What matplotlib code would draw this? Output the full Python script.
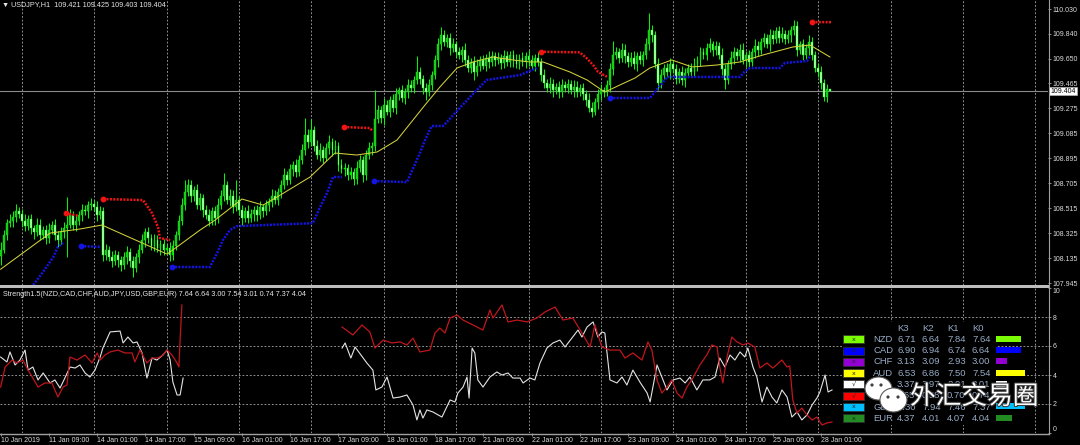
import numpy as np
import matplotlib
matplotlib.use('Agg')
import matplotlib.pyplot as plt
from matplotlib.patches import Rectangle, Ellipse
import matplotlib.patheffects as pe

plt.rcParams['font.family'] = ['Liberation Sans', 'DejaVu Sans']

nan = float('nan')

# ---------------- data ----------------
title_main = "\u25bc USDJPY,H1  109.421 109.425 109.403 109.404"
title_sub = "Strength1.5(NZD,CAD,CHF,AUD,JPY,USD,GBP,EUR) 7.64 6.64 3.00 7.54 3.01 0.74 7.37 4.04"
last_price = 109.404

first_open = 108.15
closes = [
    108.20,108.31,108.40,108.42,108.45,108.49,108.47,108.42,108.38,108.43,108.36,108.33,108.39,108.31,108.35,108.29,108.35,108.39,108.31,108.27,
    108.33,108.36,108.39,108.46,108.39,108.42,108.46,108.50,108.49,108.54,108.55,108.52,108.46,108.49,108.16,108.20,108.14,108.11,108.16,108.12,
    108.08,108.14,108.18,108.11,108.06,108.14,108.20,108.27,108.33,108.29,108.23,108.27,108.21,108.24,108.20,108.21,108.16,108.23,108.31,108.42,
    108.54,108.64,108.69,108.61,108.65,108.54,108.59,108.50,108.46,108.42,108.49,108.44,108.54,108.61,108.69,108.58,108.61,108.52,108.58,108.50,
    108.44,108.49,108.44,108.47,108.50,108.46,108.52,108.49,108.54,108.56,108.61,108.58,108.64,108.69,108.77,108.73,108.81,108.84,108.79,108.88,
    108.96,109.07,109.02,109.11,108.99,108.92,108.96,108.90,108.97,109.02,108.96,108.99,108.84,108.81,108.82,108.77,108.79,108.74,108.82,108.88,
    108.77,108.92,108.97,108.99,109.19,109.26,109.20,109.30,109.25,109.34,109.28,109.38,109.41,109.35,109.40,109.45,109.43,109.49,109.55,109.50,
    109.43,109.40,109.45,109.53,109.64,109.76,109.83,109.78,109.81,109.73,109.76,109.70,109.68,109.72,109.64,109.58,109.63,109.55,109.60,109.64,
    109.60,109.66,109.63,109.67,109.64,109.66,109.62,109.67,109.63,109.68,109.64,109.61,109.66,109.63,109.67,109.64,109.60,109.66,109.63,109.53,
    109.47,109.43,109.46,109.41,109.44,109.40,109.45,109.43,109.46,109.41,109.44,109.40,109.43,109.38,109.34,109.28,109.25,109.32,109.38,109.41,
    109.40,109.45,109.57,109.68,109.70,109.66,109.72,109.67,109.63,109.66,109.61,109.67,109.64,109.68,109.76,109.87,109.83,109.61,109.47,109.53,
    109.58,109.55,109.61,109.57,109.50,109.55,109.49,109.54,109.58,109.55,109.61,109.64,109.70,109.68,109.73,109.76,109.72,109.75,109.68,109.57,
    109.49,109.61,109.66,109.70,109.67,109.72,109.64,109.68,109.63,109.70,109.75,109.72,109.78,109.81,109.76,109.83,109.80,109.86,109.81,109.84,
    109.80,109.83,109.87,109.90,109.72,109.76,109.68,109.73,109.78,109.68,109.58,109.55,109.47,109.36,109.421,109.404,
]
# wick lengths in pips above the body top / below the body bottom
wick_hi = [
    6,4,3,5,4,6,3,4,5,3,4,3,5,4,3,4,5,3,4,3,
    4,5,21,5,3,4,3,5,4,3,4,3,5,4,3,4,3,5,4,3,
    3,4,5,3,4,3,4,5,3,4,3,5,4,3,4,3,5,4,3,4,
    5,9,5,4,3,5,4,3,4,5,3,4,5,4,9,3,5,4,15,3,
    4,3,5,4,3,4,5,3,4,3,5,4,3,4,5,3,4,3,5,4,
    4,13,5,8,3,4,5,3,4,5,3,4,3,5,4,3,4,3,5,4,
    3,4,5,3,22,4,3,5,4,3,4,5,3,4,3,5,4,3,12,4,
    3,4,5,3,4,5,6,4,3,4,5,3,4,3,5,4,3,4,5,3,
    4,3,5,4,3,4,3,5,4,3,4,5,3,4,3,5,4,3,4,3,
    4,3,5,4,3,4,5,3,4,3,5,4,3,4,3,5,4,3,4,5,
    3,4,5,11,4,3,5,4,3,4,5,3,4,3,5,13,4,3,5,4,
    3,4,5,3,4,3,5,4,3,4,5,3,4,3,4,5,3,4,3,5,
    4,3,5,4,3,4,5,3,4,3,5,4,3,4,3,5,4,3,4,5,
    3,4,3,5,4,3,4,3,5,4,3,4,5,3,4,0.4,
]
wick_lo = [
    7,3,4,3,5,4,3,5,4,3,4,5,3,4,3,5,4,3,4,5,
    3,4,22,3,4,5,3,4,3,5,4,3,4,3,5,4,3,4,3,5,
    4,3,5,4,7,3,4,3,5,4,3,4,3,5,4,3,5,4,3,4,
    3,4,3,5,4,3,4,5,3,4,3,5,4,3,4,3,5,4,3,4,
    5,3,4,3,5,4,3,4,3,5,4,3,4,5,3,4,3,5,4,3,
    3,4,5,3,4,3,5,4,3,4,5,3,4,3,5,4,3,5,4,3,
    6,4,3,5,4,3,4,5,3,4,3,5,4,3,4,5,3,4,3,4,
    5,6,3,4,3,5,4,3,4,5,3,4,3,5,4,3,4,6,3,4,
    3,4,5,3,4,3,5,4,3,4,5,3,4,3,5,4,3,4,3,5,
    4,3,4,5,3,5,4,3,4,3,5,4,3,4,5,3,4,3,5,4,
    4,3,5,4,3,4,3,5,4,3,4,5,3,4,3,4,5,3,6,4,
    3,4,5,3,4,3,4,5,3,4,3,5,4,3,4,3,5,4,3,4,
    7,3,4,5,3,4,3,5,4,3,4,5,3,4,3,5,4,3,4,3,
    4,3,5,4,5,3,4,3,5,4,3,4,5,3,4,0.1,
]

# moving average (yellow)
ma_bar = [0, 16.4, 26.3, 33.6, 55.2, 66.1, 71.1, 80, 87, 91.6, 102.6, 110.8, 118.1, 124.8, 131.4,
          140.7, 145.6, 151.3, 156.6, 163.2, 169.8, 175.5, 179.8, 188.7, 194.4, 200.3, 205.3, 210.3,
          215.2, 222.5, 229.2, 237.5, 245.1, 252.7, 262.6, 268.3, 274.9]
ma_val = [108.05, 108.325, 108.356, 108.386, 108.165, 108.348, 108.424, 108.584, 108.538, 108.599,
          108.752, 108.934, 108.919, 108.942, 109.033, 109.30, 109.436, 109.581, 109.627, 109.665,
          109.642, 109.627, 109.627, 109.551, 109.49, 109.398, 109.452, 109.505, 109.581, 109.642,
          109.589, 109.604, 109.627, 109.68, 109.741, 109.756, 109.665]

# resistance (red) and support (blue) step lines
res_bar = [21.6, 25.8, nan, 34, 47.2, 50.2, 52.2, 52.8, 56.2, nan, 113.8, 122.4, 123.4, nan,
           179, 192, 194.3, 196.4, 198, 199.3, 201, nan, 269, 275.6]
res_val = [108.475, 108.457, nan, 108.584, 108.576, 108.477, 108.37, 108.287, 108.272, nan,
           109.132, 109.124, 109.10, nan, 109.705, 109.70, 109.655, 109.604, 109.553, 109.535,
           109.515, nan, 109.93, 109.93]
sup_bar = [10.8, 14.1, 17.4, 19, 20.7, nan, 26.6, 33, nan, 56.7, 69.4, 71.7, 73.7, 76, 78.4, 103.5,
           105.9, 108.2, 110.2, 113.2, nan, 123.8, 134.7, 139, 140.7, 142.9, 146.7, 155.6, 161.1,
           172.2, 177.7, nan, 202, 215.3, 216.9, 219.2, 220.9, 245.1, 246.7, 248.4, 258.3, 260,
           267.3, 268.3]
sup_val = [107.93, 108.03, 108.14, 108.22, 108.25, nan, 108.226, 108.22, nan, 108.067, 108.067,
           108.17, 108.272, 108.348, 108.378, 108.40, 108.523, 108.63, 108.752, 108.752, nan,
           108.721, 108.713, 108.934, 109.033, 109.14, 109.14, 109.36, 109.49, 109.528, 109.58, nan,
           109.353, 109.353, 109.40, 109.46, 109.513, 109.513, 109.555, 109.581, 109.581, 109.62,
           109.634, 109.672]

# strength lines (lower panel)
jpy_bar = [0, 2.1, 3.1, 4.8, 6.4, 8.1, 9.1, 10.7, 12.4, 14.1, 16.4, 18, 19.7, 21.3, 23, 24.7, 26.3,
           28, 29.6, 31.3, 33, 33.9, 36.3, 39.6, 40.6, 42.2, 43.9, 45.2, 46.9, 48.5, 50.2, 51.8, 53.8,
           55.2, 56.2, 57.1, 58.5, 59.5, 60.5, nan,
           113.2, 114.2, 116.1, 117.5, 121.4, 123.4, 124.4, 126.4, 128.1, 130.1, 132.4, 134.7, 136.7,
           138, 139, 140, 141.3, 143.3, 146.3, 149, 150.6, 151.6, 153.3, 154.6, 155.3, 156.3, 157.2,
           158.2, 159.9, 162.2, 164.5, 166.2, 168.2, 169.8, 172.2, 173.2, 175.5, 177.1, 178.8, 181.1,
           183.1, 185.4, 187.1, 189.4, 191.4, 192.7, 194.4, 196.4, 198, 199.3, 200.3, 202, 204.3, 206,
           207.6, 209.6, 211.9, 214.3, 215.3, 217.6, 219.2, 220.9, 222.9, 225.2, 226.9, 228.5, 230.8,
           232.8, 235.1, 236.8, 238.4, 240.1, 241.8, 243.4, 245.1, 246.7, 247.7, 249.4, 250.7, 252.4,
           254, 255.7, 257.3, 259, 260.7, 262.3, 264, 265.6, 267.3, 269, 270.6, 271.6, 273.3, 274.3,
           275.6]
jpy_val = [5.24, 4.90, 5.59, 4.69, 5.03, 5.72, 4.34, 4.55, 3.66, 4.14, 3.45, 3.66, 3.10, 3.79, 4.55,
           4.48, 4.69, 4.14, 3.86, 4.34, 5.24, 5.86, 6.97, 7.03, 6.21, 6.62, 6.21, 6.28, 5.52, 3.79,
           5.17, 5.03, 5.38, 5.72, 5.03, 3.52, 2.62, 2.62, 3.79, nan,
           5.86, 6.21, 5.17, 5.93, 4.83, 4.34, 2.97, 3.17, 3.86, 2.41, 2.48, 2.62, 1.93, 0.90, 1.59,
           1.03, 1.59, 1.45, 1.10, 2.28, 2.14, 2.76, 3.17, 3.86, 2.41, 5.86, 5.52, 3.66, 3.17, 3.86,
           4.21, 4.00, 4.14, 3.79, 3.79, 3.45, 3.79, 3.66, 4.83, 5.86, 6.21, 6.41, 5.93, 6.55, 7.10,
           6.62, 7.31, 7.66, 6.62, 6.97, 6.90, 3.66, 3.45, 3.86, 3.31, 4.34, 3.52, 2.76, 2.14, 4.69,
           3.86, 2.97, 3.66, 3.79, 3.45, 3.86, 2.97, 3.66, 3.66, 3.86, 5.17, 4.55, 5.38, 5.03, 5.59,
           5.24, 5.86, 4.55, 3.86, 2.14, 3.17, 2.48, 2.07, 2.97, 2.48, 1.10, 1.45, 0.90, 1.24, 1.93,
           2.41, 2.83, 4.00, 2.83, 2.97]
usd_bar = [0, 1.5, 3.8, 5.4, 7.4, 9.1, 10.7, 12.4, 14.7, 17, 19, 20.7, 22, 23, 25.3, 28, 30.3, 32, 33,
           34.6, 36.3, 38.9, 41.2, 43.6, 44.5, 46.2, 48.5, 50.2, 52.2, 53.8, 55.2, 56.8, 58.5, 59.1,
           59.5, 60.1, nan,
           113.2, 116.8, 119.8, 122.4, 124.1, 126.8, 129.7, 132.4, 134.7, 136.7, 139, 142.3, 144,
           145.6, 147.3, 149, 151.3, 153.3, 156.6, 159.9, 162.2, 163.2, 166.2, 168.2, 171.2, 174.5,
           177.8, 180.4, 183.8, 186.4, 189.7, 192.7, 195.4, 197, 199.3, 202, 205.3, 207, 209.6, 212.6,
           214.6, 215.9, 217.6, 219.2, 220.9, 222.5, 224.2, 225.9, 227.5, 229.5, 231.8, 234.1, 235.8,
           237.5, 238.4, 239.4, 240.8, 242.4, 244.1, 246.1, 247.7, 250, 251.7, 254, 256, 259, 260.7,
           261.6, 262.6, 264, 265.6, 267.3, 269, 270.6, 272.3, 273.9, 275.6]
usd_val = [3.17, 4.55, 5.03, 4.83, 5.03, 4.34, 3.79, 3.17, 3.45, 3.45, 2.48, 3.17, 3.31, 5.24, 5.03,
           5.38, 4.83, 5.52, 5.03, 5.38, 5.59, 5.72, 5.52, 5.52, 4.90, 5.72, 4.83, 5.17, 5.17, 5.38,
           5.72, 5.38, 4.83, 4.55, 6.41, 8.83, nan,
           7.31, 6.76, 7.45, 6.97, 5.86, 6.41, 6.21, 6.28, 6.07, 6.55, 5.59, 5.72, 6.90, 7.24, 6.90,
           7.93, 8.14, 7.79, 7.45, 7.10, 8.48, 7.93, 8.83, 7.66, 7.79, 7.66, 7.93, 8.34, 8.69, 7.79,
           7.93, 6.90, 5.93, 7.45, 5.93, 5.72, 5.72, 5.17, 5.52, 5.03, 6.28, 5.72, 3.66, 2.76, 3.17,
           3.66, 2.76, 2.41, 3.17, 3.79, 4.69, 5.38, 6.07, 5.93, 4.55, 3.45, 5.24, 6.62, 6.28, 6.07,
           6.21, 5.93, 4.48, 4.83, 4.48, 5.03, 4.55, 4.62, 2.28, 1.38, 1.72, 1.24, 0.90, 1.10, 0.55,
           0.69, 0.76]

# legend table
currencies = ['NZD', 'CAD', 'CHF', 'AUD', 'JPY', 'USD', 'GBP', 'EUR']
k3 = [6.71, 6.90, 3.13, 6.53, 3.37, 0.65, 7.30, 4.37]
k2 = [6.64, 6.94, 3.09, 6.86, 3.97, 0.58, 7.94, 4.01]
k1 = [7.84, 6.74, 2.93, 7.50, 2.91, 0.70, 7.46, 4.07]
k0 = [7.64, 6.64, 3.00, 7.54, 3.01, 0.74, 7.37, 4.04]
meter = [6.4, 6.4, 3.0, 7.5, 3.0, 0.8, 7.4, 4.1]
selected = [False, False, False, False, True, True, False, False]
cur_colors = ['#7cfc00', '#0000ff', '#9400d3', '#ffff00', '#ffffff', '#ff0000', '#00bfff', '#228b22']

price_ticks = [110.030, 109.840, 109.650, 109.465, 109.275, 109.085, 108.895, 108.705,
               108.515, 108.325, 108.135, 107.945]
strength_ticks = [0, 2, 4, 6, 8, 10]
time_label_bars = [0, 16, 32, 48, 64, 80, 96, 112, 128, 144, 160, 176, 192, 208, 224, 240, 256, 272]
time_labels = ['10 Jan 2019', '11 Jan 09:00', '14 Jan 01:00', '14 Jan 17:00', '15 Jan 09:00',
               '16 Jan 01:00', '16 Jan 17:00', '17 Jan 09:00', '18 Jan 01:00', '18 Jan 17:00',
               '21 Jan 09:00', '22 Jan 01:00', '22 Jan 17:00', '23 Jan 09:00', '24 Jan 01:00',
               '24 Jan 17:00', '25 Jan 09:00', '28 Jan 01:00']
day_bars = [7, 31, 55, 79, 103, 127, 151, 175, 199, 223, 247, 271, 295, 319, 343]

# ---------------- figure ----------------
W, H = 1080, 445
fig = plt.figure(figsize=(W / 100, H / 100), dpi=100, facecolor='black')

def px_axes(x0, y0, x1, y1):
    return fig.add_axes([x0 / W, 1 - y1 / H, (x1 - x0) / W, (y1 - y0) / H])

ax = px_axes(0, 0, 1048, 285)
ax2 = px_axes(0, 288, 1048, 433)
XL = (-0.2, 347.2)
grid_kw = dict(color='#a8a8a8', lw=0.6, ls=(0, (2.2, 2.2)), zorder=0.3)
for a in (ax, ax2):
    a.set_facecolor('black')
    a.set_xlim(*XL)
    for s in a.spines.values():
        s.set_visible(False)
    for b in day_bars:
        a.axvline(b, **grid_kw)

# --- main chart ---
ax.set_ylim(107.930, 110.0985)
n = min(len(closes), len(wick_hi), len(wick_lo))
c = np.array(closes[:n])
o = np.r_[first_open, c[:-1]]
top = np.maximum(o, c)
bot = np.minimum(o, c)
hi = top + np.array(wick_hi[:n]) * 0.01
lo = bot - np.array(wick_lo[:n]) * 0.01
xb = np.arange(n)
ax.axhline(last_price, color='#8a8a8a', lw=0.8, zorder=0.5)
ax.vlines(xb, lo, hi, color='#00ff00', lw=0.7, zorder=2)
faces = np.where(c >= o, '#1fc21f', '#b9ffb9')
ax.bar(xb, np.maximum(top - bot, 0.004), bottom=bot, width=0.62, color=faces,
       edgecolor='#00ff00', linewidth=0.3, zorder=3)
ax.plot(ma_bar, ma_val, color='#d2d23c', lw=0.75, zorder=4)

def step_line(bars, vals, color):
    ax.plot(bars, vals, color=color, lw=1.8, ls=(0, (0.8, 0.55)), zorder=5, solid_capstyle='butt')
    prev = nan
    for b, v in zip(bars, vals):
        if np.isnan(prev) and not np.isnan(b) and v > 107.96:
            ax.plot([b], [v], 'o', color=color, ms=3.2, zorder=6)
        prev = b

step_line(res_bar, res_val, '#f01414')
step_line(sup_bar, sup_val, '#1414e6')

ax.yaxis.tick_right()
ax.set_yticks(price_ticks, [f'{p:.3f}' for p in price_ticks])
ax.tick_params(axis='y', length=2, width=0.6, color='#a0a0a0', labelcolor='#dcdcdc',
               labelsize=5, pad=1.5)
ax.tick_params(axis='x', bottom=False, labelbottom=False)

# --- lower chart ---
ax2.set_ylim(0, 10)
for g in [2, 4, 6, 8]:
    ax2.axhline(g, **grid_kw)
ax2.plot(jpy_bar, jpy_val, color='#e4e4e4', lw=0.8, zorder=3)
ax2.plot(usd_bar, usd_val, color='#c0161c', lw=0.9, zorder=3)
ax2.yaxis.tick_right()
ax2.set_yticks(strength_ticks, [str(t) for t in strength_ticks])
ax2.tick_params(axis='y', length=2, width=0.6, color='#a0a0a0', labelcolor='#dcdcdc',
                labelsize=5, pad=1.5)
for lbl in ax2.get_yticklabels():
    if lbl.get_text() == '10':
        lbl.set_verticalalignment('top')
    elif lbl.get_text() == '0':
        lbl.set_verticalalignment('bottom')
ax2.set_xticks(time_label_bars, time_labels)
ax2.tick_params(axis='x', length=2, width=0.6, color='#a0a0a0', labelcolor='#dcdcdc',
                labelsize=5, pad=1.2)
for lbl in ax2.get_xticklabels():
    lbl.set_horizontalalignment('left')

# --- overlay (pixel coordinates) ---
ov = fig.add_axes([0, 0, 1, 1], zorder=10)
ov.set_xlim(0, W)
ov.set_ylim(H, 0)
ov.axis('off')
ov.patch.set_alpha(0)

ov.add_patch(Rectangle((0, 285.2), 1048.5, 2.5, color='#bdbdbd', lw=0))
ov.plot([1048.5, 1048.5], [0, 433.8], color='#a0a0a0', lw=0.8)
ov.plot([0, 1048.5], [433.6, 433.6], color='#a0a0a0', lw=1.0)

ov.text(2, 4.5, title_main, color='#e6e6e6', fontsize=5.2, va='center', ha='left')
ov.text(3, 294, title_sub, color='#e6e6e6', fontsize=5.2, va='center', ha='left')

# current price box
ov.add_patch(Rectangle((1049.3, 86.6), 28, 8.8, fc='white', ec='#c0c0c0', lw=0.4))
ov.text(1063.3, 91.1, f'{last_price:.3f}', color='black', fontsize=5, ha='center', va='center')

# legend table
txtc = '#98acc6'
ov.add_patch(Rectangle((842, 322), 154, 103, color='black', lw=0))
for h, xh in zip(['K3', 'K2', 'K1', 'K0'], [897, 922, 947, 972]):
    ov.text(xh, 328.3, h, color=txtc, fontsize=6.8, va='center', ha='left')
for i, cur in enumerate(currencies):
    y = 339.2 + 11.3 * i
    ov.add_patch(Rectangle((843, y - 4), 21, 8, fc=cur_colors[i], ec='#303030', lw=0.5))
    ov.text(853.5, y, '\u221a' if selected[i] else 'x', color='#222222', fontsize=4.6,
            ha='center', va='center', family=['DejaVu Sans'])
    ov.text(873, y, cur, color=txtc, fontsize=6.8, va='center', ha='left')
    for xv, v in zip([897, 922, 947, 972], [k3[i], k2[i], k1[i], k0[i]]):
        ov.text(xv, y, f'{v:.2f}', color=txtc, fontsize=6.8, va='center', ha='left')
    ov.add_patch(Rectangle((995.7, y - 3.6), meter[i] * 3.9, 6, color=cur_colors[i], lw=0))

# watermark (WeChat logo + text)
ov.add_patch(Ellipse((878.5, 388.5), 27, 23, fc='white', ec='#5a5a5a', lw=0.8, zorder=20))
for ex in (872, 881):
    ov.add_patch(Ellipse((ex, 385), 3.2, 3.2, fc='#404040', lw=0, zorder=21))
ov.add_patch(Ellipse((893.5, 400), 27, 24, fc='white', ec='#5a5a5a', lw=0.8, zorder=22))
for ex in (888, 898):
    ov.add_patch(Ellipse((ex, 397), 3.2, 3.2, fc='#404040', lw=0, zorder=23))
ov.text(910, 397, '外汇交易圈', color='white', fontsize=18.5, ha='left', va='center',
        family=['Noto Sans CJK SC'], zorder=24,
        path_effects=[pe.withStroke(linewidth=1.5, foreground='#3a3a3a')])

fig.savefig('out.png', dpi=100, facecolor='black')
